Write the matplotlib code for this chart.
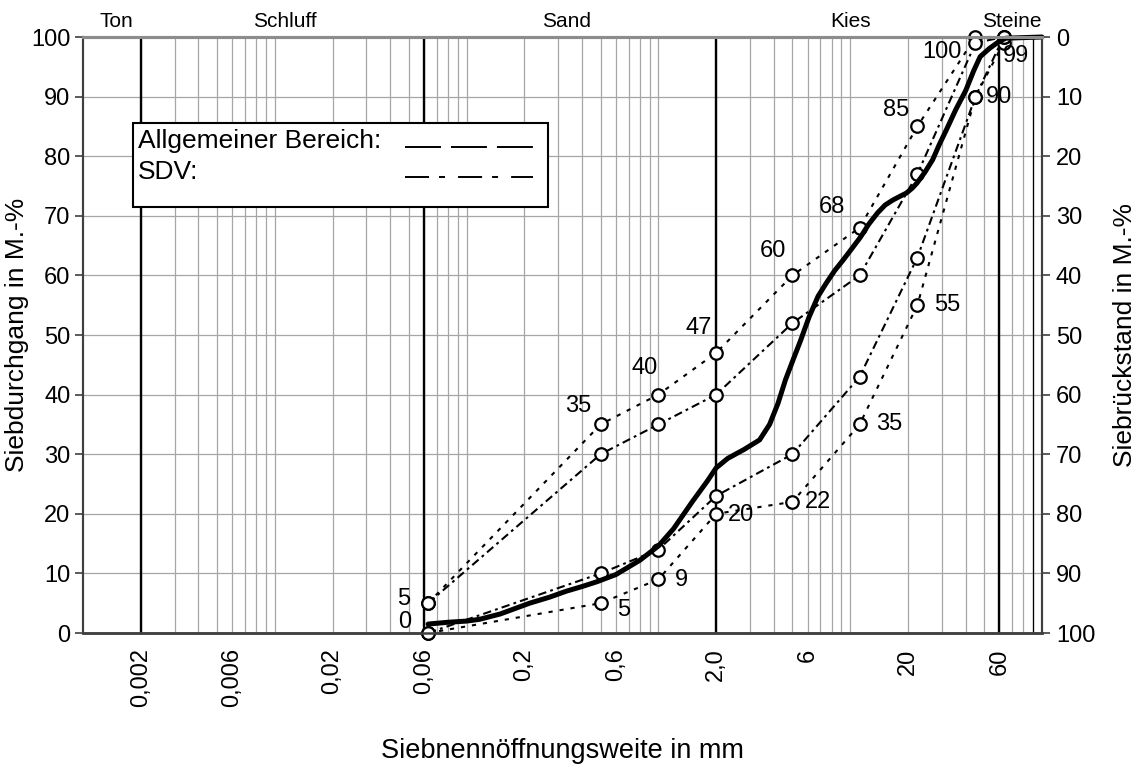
import numpy as np
import matplotlib
matplotlib.use("Agg")
import matplotlib.pyplot as plt
from matplotlib.ticker import NullLocator
from matplotlib.patches import Rectangle

plt.rcParams['font.family'] = ['Liberation Sans', 'DejaVu Sans']
plt.rcParams['lines.scale_dashes'] = False

# sieve sizes in mm
sieves = [0.063, 0.5, 1.0, 2.0, 5.0, 11.2, 22.4, 45.0, 63.0]

# Allgemeiner Bereich (dotted), upper / lower limit
allg_upper = [5, 35, 40, 47, 60, 68, 85, 100, 100]
allg_lower = [0, 5, 9, 20, 22, 35, 55, 90, 99]

# SDV range (dash-dot), upper / lower limit
sdv_upper = [5, 30, 35, 40, 52, 60, 77, 99, 100]
sdv_lower = [0, 10, 14, 23, 30, 43, 63, 90, 100]

# measured grading curve (solid)
curve_x = [0.063, 0.08, 0.1, 0.117, 0.15, 0.213, 0.27, 0.33, 0.4, 0.478, 0.6, 0.8,
           1.0, 1.2, 1.5, 1.8, 2.0, 2.3, 2.8, 3.37, 3.8, 4.2, 4.6, 5.06, 5.5, 6.1,
           6.8, 7.5, 8.3, 9.2, 10.2, 11.3, 12.5, 13.9, 15.2, 16.6, 18.0, 19.6, 21.0,
           22.3, 24.5, 26.9, 29.0, 31.7, 35.5, 40.0, 44.0, 47.6, 53.3, 60.0, 64.9, 100.0]
curve_y = [1.5, 1.8, 2.0, 2.3, 3.2, 5.0, 6.0, 7.0, 7.8, 8.6, 9.8, 12.2,
           14.6, 17.5, 22.0, 25.5, 27.7, 29.3, 30.8, 32.4, 35.0, 38.5, 42.5, 46.0, 49.0, 53.0,
           56.5, 58.7, 60.8, 62.6, 64.5, 66.4, 68.6, 70.5, 71.8, 72.6, 73.2, 73.8, 74.6,
           75.5, 77.3, 79.4, 81.8, 84.4, 87.8, 91.0, 94.3, 96.7, 98.1, 99.3, 99.8, 100.0]

# label offsets (pixels: right, up) for the data labels
upper_offsets = [(-24, 4), (-22, 18), (-14, 27), (-17, 25), (-20, 24), (-28, 21), (-21, 16), (-34, -15), None]
lower_offsets = [(-23, 11), (23, -7), (23, -1), (25, -1), (26, 0), (30, 0), (30, 0), (24, 0), (12, -13)]

tick_vals = [0.002, 0.006, 0.02, 0.06, 0.2, 0.6, 2.0, 6, 20, 60]
tick_text = ['0,002', '0,006', '0,02', '0,06', '0,2', '0,6', '2,0', '6', '20', '60']
boundaries = [0.002, 0.06, 2.0, 60]

zones = ['Ton', 'Schluff', 'Sand', 'Kies', 'Steine']
zone_x = [0.00149, 0.0113, 0.33, 10.1, 69.4]

fig = plt.figure(figsize=(11.4, 7.67), dpi=100)
ax = fig.add_axes([83 / 1140, 1 - 633 / 767, 959 / 1140, 596 / 767])
ax.set_xscale('log')
ax.set_xlim(0.001, 100)
ax.set_ylim(0, 100)

# grid
for d in [0.001, 0.01, 0.1, 1, 10]:
    for m in range(2, 10):
        ax.axvline(d * m, color='#a6a6a6', lw=0.9, zorder=0)
for v in [0.01, 0.1, 1, 10]:
    ax.axvline(v, color='#a6a6a6', lw=0.9, zorder=0)
for b in boundaries:
    ax.axvline(b, color='black', lw=1.7, zorder=1)
ax.axvline(90, color='black', lw=0.9, zorder=1)
for yv in range(10, 100, 10):
    ax.axhline(yv, color='#a6a6a6', lw=0.9, zorder=0)

# lines
ax.plot(sieves, allg_upper, color='black', lw=1.5, dashes=(3, 5), marker='o', ms=9,
        mfc='white', mec='black', mew=1.6, zorder=5, clip_on=False)
ax.plot(sieves, allg_lower, color='black', lw=1.5, dashes=(3, 5), marker='o', ms=9,
        mfc='white', mec='black', mew=1.6, zorder=5, clip_on=False)
ax.plot(sieves, sdv_upper, color='black', lw=1.5, dashes=(6, 3, 2, 3), marker='o', ms=9,
        mfc='white', mec='black', mew=1.6, zorder=5, clip_on=False)
ax.plot(sieves, sdv_lower, color='black', lw=1.5, dashes=(6, 3, 2, 3), marker='o', ms=9,
        mfc='white', mec='black', mew=1.6, zorder=5, clip_on=False)
ax.plot(curve_x, curve_y, color='black', lw=3.6, zorder=6, clip_on=False,
        solid_joinstyle='round', solid_capstyle='round')

# data labels
for xv, yv, off in zip(sieves, allg_upper, upper_offsets):
    if off is None:
        continue
    ax.annotate(str(yv), (xv, yv), xytext=(off[0] * 0.72, off[1] * 0.72),
                textcoords='offset points', ha='center', va='center', fontsize=17, zorder=7)
for xv, yv, off in zip(sieves, allg_lower, lower_offsets):
    ax.annotate(str(yv), (xv, yv), xytext=(off[0] * 0.72, off[1] * 0.72),
                textcoords='offset points', ha='center', va='center', fontsize=17, zorder=7)

# zone names above the plot
for name, xv in zip(zones, zone_x):
    ax.text(xv, 1.026, name, transform=ax.get_xaxis_transform(), ha='center',
            va='center', fontsize=15)

# legend box
ax.add_patch(Rectangle((0.0521, 0.7148), 0.4328, 0.1409, transform=ax.transAxes,
                       facecolor='white', edgecolor='black', lw=1.5, zorder=4))
ax.text(0.0574, 0.8255, 'Allgemeiner Bereich:', transform=ax.transAxes, fontsize=19,
        va='center', ha='left', zorder=5)
ax.text(0.0574, 0.7735, 'SDV:', transform=ax.transAxes, fontsize=19,
        va='center', ha='left', zorder=5)
ax.plot([0.3358, 0.4692], [0.8154, 0.8154], transform=ax.transAxes, color='black',
        lw=1.4, dashes=(25.9, 7.2), zorder=5)
ax.plot([0.3358, 0.4692], [0.7651, 0.7651], transform=ax.transAxes, color='black',
        lw=1.4, dashes=(17.3, 7.2, 4.3, 9.4), zorder=5)

# axes
ax.xaxis.set_minor_locator(NullLocator())
ax.set_xticks(tick_vals)
ax.set_xticklabels(tick_text, rotation=90, fontsize=17)
ax.tick_params(axis='x', length=0, pad=11)
ax.set_yticks(range(0, 101, 10))
ax.tick_params(axis='y', length=6, width=1.2, color='#404040', labelsize=17, pad=3)
ax.set_xlabel('Siebnennöffnungsweite in mm', fontsize=19.5, labelpad=22)
ax.set_ylabel('Siebdurchgang in M.-%', fontsize=19)
ax.yaxis.set_label_coords(-0.0565, 0.5)

ax2 = ax.twinx()
ax2.set_ylim(100, 0)
ax2.set_yticks(range(0, 101, 10))
ax2.tick_params(axis='y', length=6, width=1.2, color='#404040', labelsize=17, pad=4)
ax2.set_ylabel('Siebrückstand in M.-%', fontsize=19, labelpad=13)

for a in (ax, ax2):
    a.spines['top'].set_color('#8c8c8c')
    a.spines['top'].set_linewidth(2.2)
    a.spines['bottom'].set_color('#404040')
    a.spines['bottom'].set_linewidth(1.8)
    a.spines['left'].set_color('#404040')
    a.spines['left'].set_linewidth(1.5)
    a.spines['right'].set_color('#404040')
    a.spines['right'].set_linewidth(1.5)

fig.savefig('out.png', dpi=100)
